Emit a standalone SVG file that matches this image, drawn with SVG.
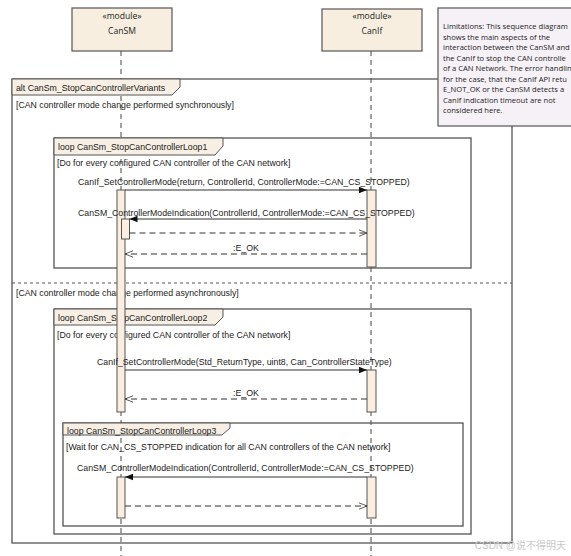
<svg xmlns="http://www.w3.org/2000/svg" width="571" height="556" viewBox="0 0 571 556">
<defs>
<style>
.t{font-family:"Liberation Sans",Arial,sans-serif;font-size:8.75px;fill:#222}
.n{font-family:"Open Sans","Liberation Sans",sans-serif;font-size:8.6px;fill:#222}
.nt{font-family:"Open Sans","Liberation Sans",sans-serif;font-size:7.6px;fill:#222}
.frame{fill:none;stroke:#555;stroke-width:1.3}
.lab{fill:#f8efe4;stroke:#555;stroke-width:1}
.node{fill:#f8eee0;stroke:#555;stroke-width:1.2}
.life{stroke:#444;stroke-width:1;stroke-dasharray:5,4;fill:none}
.act{fill:#fbeee0;stroke:#555;stroke-width:1}
.msg{stroke:#333;stroke-width:1;fill:none}
.ret{stroke:#333;stroke-width:1;fill:none;stroke-dasharray:6,4}
.div{stroke:#555;stroke-width:1;stroke-dasharray:3,3;fill:none}
</style>
<marker id="fill" viewBox="0 0 10 10" refX="10" refY="5" markerWidth="10" markerHeight="8" orient="auto" markerUnits="userSpaceOnUse">
<path d="M0,1 L10,5 L0,9 z" fill="#111"/>
</marker>
<marker id="open" viewBox="0 0 10 10" refX="10" refY="5" markerWidth="10" markerHeight="8" orient="auto" markerUnits="userSpaceOnUse">
<path d="M0,1 L10,5 L0,9" fill="none" stroke="#333" stroke-width="1"/>
</marker>
</defs>
<rect width="571" height="556" fill="#fff"/>

<g id="lifelines">
<line class="life" x1="121" y1="51" x2="121" y2="556"/>
<line class="life" x1="371" y1="51" x2="371" y2="556"/>
</g>

<g id="alt-frame">
<rect class="frame" x="12" y="79" width="500" height="464"/>
<path class="lab" d="M12,79 H180 V87 L172,95 H12 Z"/>
<text class="t" x="16" y="91">alt CanSm_StopCanControllerVariants</text>
<text class="t" x="16" y="108">[CAN controller mode change performed synchronously]</text>
<line class="div" x1="12" y1="283" x2="512" y2="283"/>
<text class="t" x="16" y="296">[CAN controller mode change performed asynchronously]</text>
</g>

<g id="loop1">
<rect class="frame" x="54" y="138" width="417" height="130"/>
<path class="lab" d="M54,138 H223 V146 L215,155 H54 Z"/>
<text class="t" x="58" y="150">loop CanSm_StopCanControllerLoop1</text>
<text class="t" x="57" y="166">[Do for every configured CAN controller of the CAN network]</text>
</g>

<g id="loop2">
<rect class="frame" x="54" y="309" width="417" height="225"/>
<path class="lab" d="M54,309 H223 V317 L215,325 H54 Z"/>
<text class="t" x="58" y="321">loop CanSm_StopCanControllerLoop2</text>
<text class="t" x="57" y="338">[Do for every configured CAN controller of the CAN network]</text>
</g>

<g id="loop3">
<rect class="frame" x="63" y="423" width="400" height="103"/>
<path class="lab" d="M63,423 H230 V428 L222,435 H63 Z"/>
<text class="t" x="67" y="434">loop CanSm_StopCanControllerLoop3</text>
<text class="t" x="66" y="450">[Wait for CAN_CS_STOPPED indication for all CAN controllers of the CAN network]</text>
</g>

<g id="activations">
<rect class="act" x="117" y="190" width="8" height="222"/>
<rect class="act" x="121.5" y="219" width="8" height="20"/>
<rect class="act" x="367" y="190" width="9" height="77"/>
<rect class="act" x="367" y="370" width="9" height="42"/>
<rect class="act" x="117" y="477" width="8" height="41"/>
<rect class="act" x="367" y="477" width="9" height="41"/>
</g>

<g id="connectors">
<line class="msg" x1="125" y1="190" x2="367" y2="190" marker-end="url(#fill)"/>
<text class="t" x="78" y="185">CanIf_SetControllerMode(return, ControllerId, ControllerMode:=CAN_CS_STOPPED)</text>
<line class="msg" x1="367" y1="219" x2="129.5" y2="219" marker-end="url(#fill)"/>
<text class="t" x="78" y="216">CanSM_ControllerModeIndication(ControllerId, ControllerMode:=CAN_CS_STOPPED)</text>
<line class="ret" x1="129.5" y1="233" x2="367" y2="233" marker-end="url(#open)"/>
<line class="ret" x1="367" y1="254" x2="125" y2="254" marker-end="url(#open)"/>
<text class="t" x="233" y="251">:E_OK</text>
<line class="msg" x1="125" y1="370" x2="367" y2="370" marker-end="url(#fill)"/>
<text class="t" x="97" y="365">CanIf_SetControllerMode(Std_ReturnType, uint8, Can_ControllerStateType)</text>
<line class="ret" x1="367" y1="399" x2="125" y2="399" marker-end="url(#open)"/>
<text class="t" x="233" y="396">:E_OK</text>
<line class="msg" x1="367" y1="477" x2="125" y2="477" marker-end="url(#fill)"/>
<text class="t" x="77" y="471">CanSM_ControllerModeIndication(ControllerId, ControllerMode:=CAN_CS_STOPPED)</text>
<line class="ret" x1="125" y1="506" x2="367" y2="506" marker-end="url(#open)"/>
</g>

<g id="CanSM">
<rect class="node" x="72" y="8" width="100" height="43"/>
<text class="n" x="122" y="19" text-anchor="middle">«module»</text>
<text class="n" x="122" y="34" text-anchor="middle">CanSM</text>
</g>

<g id="CanIf">
<rect class="node" x="322" y="9" width="100" height="42"/>
<text class="n" x="372" y="19" text-anchor="middle">«module»</text>
<text class="n" x="372" y="34" text-anchor="middle">CanIf</text>
</g>

<g id="note">
<rect x="438" y="8" width="140" height="118" fill="#f6f1f6" stroke="#555" stroke-width="1.2"/>
<text class="nt" x="443" y="29">Limitations: This sequence diagram</text>
<text class="nt" x="443" y="39.5">shows the main aspects of the</text>
<text class="nt" x="443" y="50">interaction between the CanSM and</text>
<text class="nt" x="443" y="60.5">the CanIf to stop the CAN controlle</text>
<text class="nt" x="443" y="71">of a CAN Network. The error handlin</text>
<text class="nt" x="443" y="81.5">for the case, that the CanIf API retu</text>
<text class="nt" x="443" y="92">E_NOT_OK or the CanSM detects a</text>
<text class="nt" x="443" y="102.5">CanIf indication timeout are not</text>
<text class="nt" x="443" y="113">considered here.</text>
</g>

<text x="566" y="549" text-anchor="end" font-family="'Liberation Sans','Noto Sans CJK SC',sans-serif" font-size="10" fill="#c9c9c9">CSDN @说不得明天</text>
</svg>
